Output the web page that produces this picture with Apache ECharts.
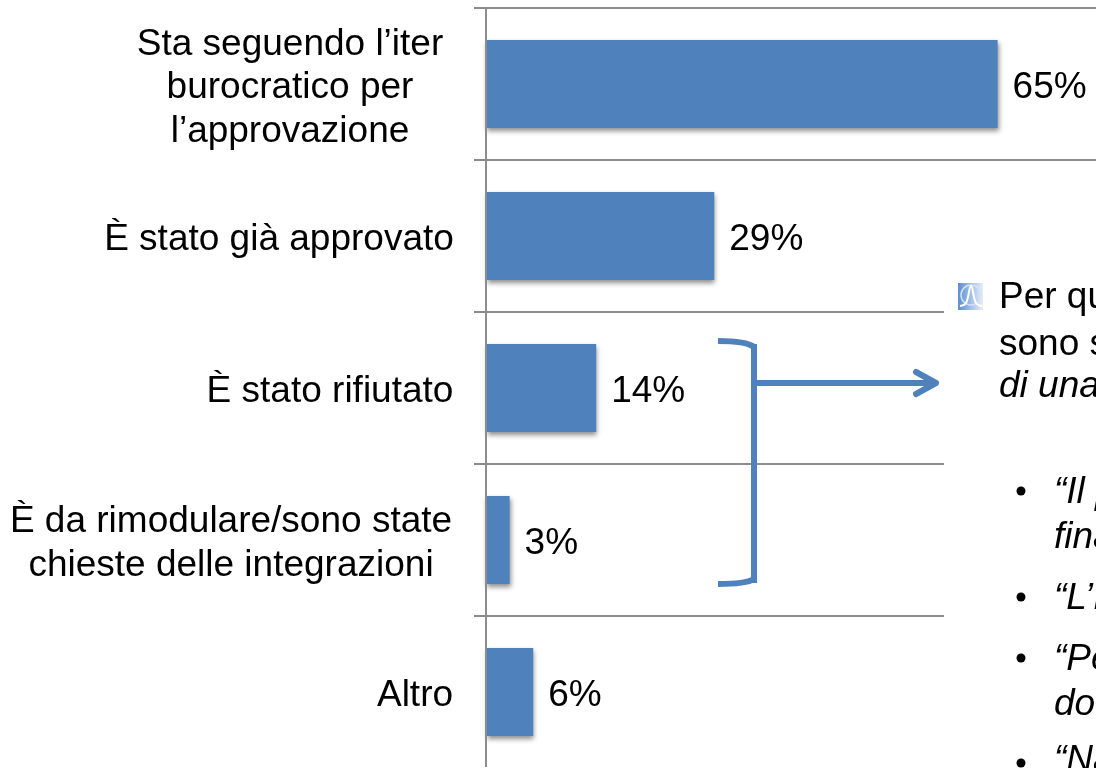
<!DOCTYPE html>
<html><head><meta charset="utf-8">
<style>html,body{margin:0;padding:0;background:#fff}#c{width:1096px;height:768px}</style>
<script src="https://cdn.jsdelivr.net/npm/echarts@6/dist/echarts.min.js"></script>
</head><body><div id="c"></div>
<script>
const categories = [
  "Sta seguendo l’iter\nburocratico per\nl’approvazione",
  "È stato già approvato",
  "È stato rifiutato",
  "È da rimodulare/sono state\nchieste delle integrazioni",
  "Altro"
];
const values = [65, 29, 14, 3, 6];
const blockWidths = [328, 350, 248, 446, 78];
const sideTexts = [
  ["Per qu", 999, 308, false], ["sono s", 999, 355, false], ["di una", 999, 397, true],
  ["“Il p", 1054, 503, true], ["fina", 1054, 548, true], ["“L’I", 1054, 609, true],
  ["“Pe", 1054, 670, true], ["do", 1054, 715, true], ["“Na", 1054, 771, true]
];
const bullets = [491, 597, 658, 763];

const FONT = '"Liberation Sans", Arial, sans-serif';
const BLUE = '#4f81bd', GREY = '#8c8c8c';
const rich = {};
blockWidths.forEach((w, i) => {
  rich['w' + i] = {width: w, align: 'center', fontFamily: FONT, fontSize: 37, lineHeight: 43.5, color: '#000'};
});

const graphic = [
  {type:'rect', z:5, shape:{x:944,y:276,width:160,height:500}, style:{fill:'#fff'}},
  {type:'rect', z:5, shape:{x:470,y:767,width:480,height:2}, style:{fill:'#fff'}},
  {type:'bezierCurve', z:6, shape:{x1:718,y1:341,cpx1:746,cpy1:341,x2:754,y2:347}, style:{stroke:BLUE,fill:null,lineWidth:6}},
  {type:'line', z:6, shape:{x1:754,y1:344,x2:754,y2:583}, style:{stroke:BLUE,lineWidth:6}},
  {type:'bezierCurve', z:6, shape:{x1:718,y1:584,cpx1:746,cpy1:584,x2:754,y2:579}, style:{stroke:BLUE,fill:null,lineWidth:6}},
  {type:'line', z:6, shape:{x1:756,y1:383,x2:935,y2:383}, style:{stroke:BLUE,lineWidth:6}},
  {type:'polyline', z:6, shape:{points:[[916,372],[936,383],[916,394]]}, style:{stroke:BLUE,fill:null,lineWidth:6,lineCap:'round',lineJoin:'round'}},
  {type:'rect', z:6, shape:{x:958,y:283,width:25,height:27}, style:{fill:{type:'linear',x:0,y:0,x2:1,y2:0,colorStops:[{offset:0,color:'#5b8fd0'},{offset:1,color:'#e6eef7'}]}}},
  {type:'circle', z:7, shape:{cx:971,cy:295,r:10}, style:{stroke:'#d5e3f3',fill:null,lineWidth:1.5}},
  {type:'polyline', z:7, shape:{points:[[960,306],[966,303],[971,286],[976,303],[982,306]],smooth:0.4}, style:{stroke:'#fff',fill:null,lineWidth:2}}
];
sideTexts.forEach(t => graphic.push({type:'text', z:7, x:t[1], y:t[2]+8, style:{text:t[0], fill:'#000', font:(t[3]?'italic ':'')+'37px '+FONT, verticalAlign:'bottom'}}));
bullets.forEach(y => graphic.push({type:'circle', z:7, shape:{cx:1021,cy:y,r:4.5}, style:{fill:'#000'}}));

const chart = echarts.init(document.getElementById('c'), null, {renderer:'canvas'});
chart.setOption({
  animation:false,
  backgroundColor:'#fff',
  graphic:{elements:graphic},
  grid:{left:486,top:8,right:0,bottom:0,containLabel:false},
  xAxis:{type:'value',min:0,max:77.5,show:false},
  yAxis:{type:'category',inverse:true,data:categories,z:4,
    axisLine:{show:true,lineStyle:{color:GREY,width:2}},
    axisTick:{show:true,length:12,alignWithLabel:false,lineStyle:{color:GREY,width:2}},
    splitLine:{show:true,lineStyle:{color:GREY,width:2}},
    axisLabel:{margin:32,align:'right',padding:[8,0,0,0],fontFamily:FONT,fontSize:37,color:'#000',rich,
      formatter:(v,i)=>v.split('\n').map(l=>`{w${i}|${l}}`).join('\n')}
  },
  series:[{type:'bar',data:values,barWidth:88,
    itemStyle:{color:BLUE,shadowColor:'rgba(0,0,0,0.45)',shadowBlur:5,shadowOffsetY:3,shadowOffsetX:1},
    label:{show:true,position:'right',distance:15,offset:[0,4],formatter:'{c}%',fontFamily:FONT,fontSize:37,color:'#000'}
  }]
});
</script></body></html>
